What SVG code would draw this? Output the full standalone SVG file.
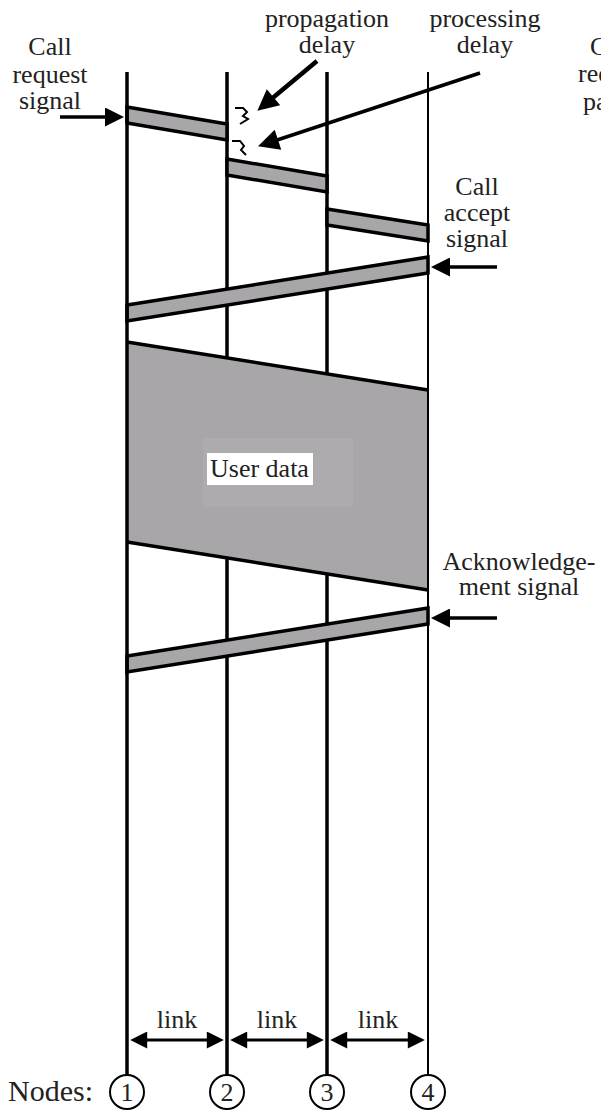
<svg xmlns="http://www.w3.org/2000/svg" width="601" height="1110" viewBox="0 0 601 1110">
<style>
.t{font-family:"Liberation Serif","Times New Roman",serif;font-size:26px;fill:#222}
.m{text-anchor:middle}
.v{stroke:#000;stroke-width:3.5;fill:none}
.v4{stroke:#000;stroke-width:2;fill:none}
.band{fill:#a8a6a9;stroke:#000;stroke-width:3.5;stroke-linejoin:miter}
.edge{stroke:#000;stroke-width:3.5;fill:none}
.arr{stroke:#000;stroke-width:3.5;fill:none;marker-end:url(#ah)}
.dbl{stroke:#000;stroke-width:3;fill:none;marker-start:url(#ah2);marker-end:url(#ah2)}
.sq{stroke:#000;stroke-width:2;fill:none}
</style>
<defs>
<marker id="ah" viewBox="0 0 10 10" refX="6.3" refY="5" markerWidth="27" markerHeight="19" markerUnits="userSpaceOnUse" orient="auto">
<path d="M0,0 L10,5 L0,10 z" fill="#000"/>
</marker>
<marker id="ahbig" viewBox="0 0 10 10" refX="6.5" refY="5" markerWidth="30" markerHeight="21" markerUnits="userSpaceOnUse" orient="auto">
<path d="M0,0 L10,5 L0,10 z" fill="#000"/>
</marker>
<marker id="ah2" viewBox="0 0 10 10" refX="6" refY="5" markerWidth="25" markerHeight="17" markerUnits="userSpaceOnUse" orient="auto-start-reverse">
<path d="M0,0 L10,5 L0,10 z" fill="#000"/>
</marker>
</defs>

<!-- inner node timelines (drawn under data) -->
<g id="timeline-2"><line class="v" x1="227" y1="72" x2="227" y2="1075"/></g>
<g id="timeline-3"><line class="v" x1="327" y1="72" x2="327" y2="1075"/></g>

<g id="call-request-packet">
<polygon class="band" points="127,107 227,124 227,140 127,123"/>
<polygon class="band" points="227,159 327,176 327,192 227,175"/>
<polygon class="band" points="327,209 428,225 428,241 327,225"/>
</g>

<g id="call-accept-packet">
<polygon class="band" points="428,257 127,305 127,321 428,273"/>
</g>

<g id="user-data">
<polygon points="127,342 428,390 428,590 127,542" fill="#a8a6a9"/>
<line class="edge" x1="127" y1="342" x2="428" y2="390"/>
<line class="edge" x1="127" y1="542" x2="428" y2="590"/>
<rect x="203" y="438" width="150" height="69" fill="#adabad"/>
<rect x="207" y="453" width="106" height="32" fill="#fff"/>
<text class="t" x="210" y="477">User data</text>
</g>

<g id="ack-packet">
<polygon class="band" points="428,608 127,656 127,672 428,624"/>
</g>

<g id="timeline-1"><line class="v" x1="127" y1="72" x2="127" y2="1075"/></g>
<g id="timeline-4"><line class="v4" x1="428" y1="72" x2="428" y2="1075"/></g>

<g id="delay-marks">
<path class="sq" d="M235,108 h8 l4,4 l-4,4 l5,3 l-8,5"/>
<path class="sq" d="M232,141 h8 l4,5 l-3,4 l5,5"/>
</g>

<g id="connectors">
<line class="arr" x1="60" y1="117" x2="117" y2="117"/>
<line class="arr" x1="497" y1="267" x2="438" y2="267"/>
<line class="arr" x1="497" y1="618" x2="438" y2="618"/>
<line stroke="#000" stroke-width="4.5" x1="317" y1="61" x2="263" y2="106" marker-end="url(#ahbig)"/>
<line stroke="#000" stroke-width="3.5" x1="480" y1="73" x2="265" y2="144" marker-end="url(#ahbig)"/>
<line class="dbl" x1="137" y1="1040" x2="217" y2="1040"/>
<line class="dbl" x1="237" y1="1040" x2="317" y2="1040"/>
<line class="dbl" x1="337" y1="1040" x2="418" y2="1040"/>
</g>

<g id="labels">
<text class="t m" x="50" y="55">Call<tspan x="50" dy="28">request</tspan><tspan x="50" dy="26">signal</tspan></text>
<text class="t m" x="327" y="27">propagation<tspan x="327" dy="26">delay</tspan></text>
<text class="t m" x="485" y="27">processing<tspan x="485" dy="26">delay</tspan></text>
<text class="t" x="590" y="55">Call<tspan x="578" dy="27">request</tspan><tspan x="583" dy="28">packet</tspan></text>
<text class="t m" x="477" y="195">Call<tspan x="477" dy="26">accept</tspan><tspan x="477" dy="26">signal</tspan></text>
<text class="t m" x="519" y="570">Acknowledge-<tspan x="519" dy="25">ment signal</tspan></text>
<text class="t m" x="177" y="1028">link</text>
<text class="t m" x="277" y="1028">link</text>
<text class="t m" x="378" y="1028">link</text>
</g>

<g id="nodes">
<text class="t" x="8" y="1101" style="font-size:30px">Nodes:</text>
<g id="node-1"><circle cx="127" cy="1092" r="17" fill="#fff" stroke="#000" stroke-width="2"/><text class="t m" x="127" y="1101">1</text></g>
<g id="node-2"><circle cx="227" cy="1092" r="17" fill="#fff" stroke="#000" stroke-width="2"/><text class="t m" x="227" y="1101">2</text></g>
<g id="node-3"><circle cx="327" cy="1092" r="17" fill="#fff" stroke="#000" stroke-width="2"/><text class="t m" x="327" y="1101">3</text></g>
<g id="node-4"><circle cx="428" cy="1092" r="17" fill="#fff" stroke="#000" stroke-width="2"/><text class="t m" x="428" y="1101">4</text></g>
</g>
</svg>
